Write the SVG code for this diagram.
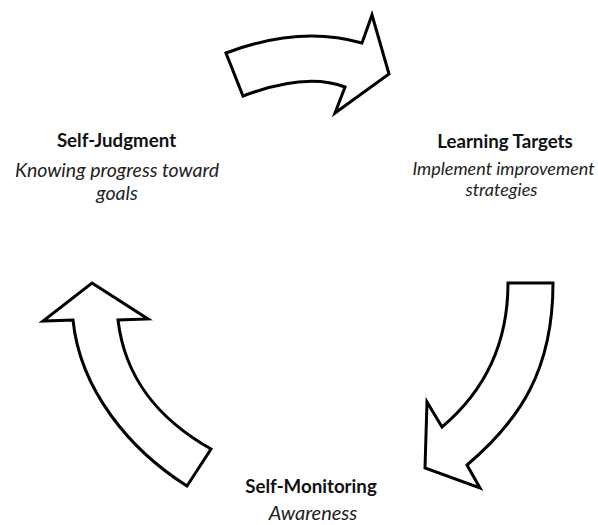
<svg xmlns="http://www.w3.org/2000/svg" width="598" height="525" viewBox="0 0 598 525">
<style>
.arrow{fill:#fff;stroke:#000;stroke-width:3;stroke-linejoin:miter}
.title{font-family:Lato,"Open Sans","Liberation Sans",sans-serif;font-weight:bold;fill:#111;text-anchor:middle;font-size:18.7px}
.sub{font-family:Lato,"Open Sans","Liberation Sans",sans-serif;font-style:italic;fill:#222;text-anchor:middle}
</style>
<rect width="598" height="525" fill="#fff"/>
<g id="connectors">
<path id="arrow-top" class="arrow" d="M226,53 Q300,25 362,43 L372,15 L389,74 L335,113 L345,87 Q306,72 243,96 Z"/>
<path id="arrow-right" class="arrow" d="M508,283 L553,283 C553,370 520,420 467,465 L480,488 L425,468 L427,402 L442,427 C480,395 508,350 508,283 Z"/>
<path id="arrow-left" class="arrow" d="M92,283 L148,319 L118,320 C125,380 160,420 211,449 L187,486 C130,450 80,390 73,320 L43,321 Z"/>
</g>
<g id="node-self-judgment">
<text class="title" x="116.5" y="147">Self-Judgment</text>
<text class="sub" x="117" y="177" font-size="19.5">Knowing progress toward</text>
<text class="sub" x="117" y="200" font-size="19.5">goals</text>
</g>
<g id="node-learning-targets">
<text class="title" x="505" y="148">Learning Targets</text>
<text class="sub" x="503.5" y="175" font-size="18">Implement improvement</text>
<text class="sub" x="501.5" y="196" font-size="18">strategies</text>
</g>
<g id="node-self-monitoring">
<text class="title" x="311" y="493">Self-Monitoring</text>
<text class="sub" x="313" y="520" font-size="20">Awareness</text>
</g>
</svg>
